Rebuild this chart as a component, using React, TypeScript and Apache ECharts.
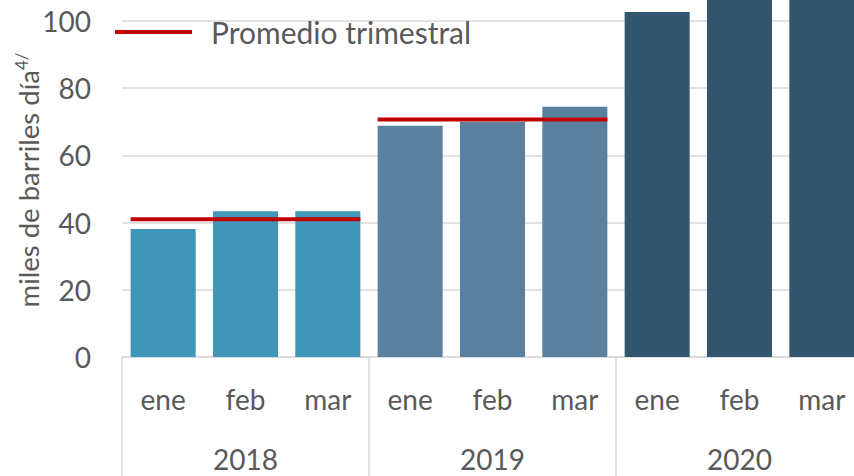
import React, { useEffect, useRef } from "react";
import * as echarts from "echarts";

const months = ["ene", "feb", "mar", "ene", "feb", "mar", "ene", "feb", "mar"];
const years = ["2018", "2019", "2020"];
const production = [38.1, 43.4, 43.4, 68.8, 70.0, 74.5, 102.7, 110.0, 112.0];
const quarterAvg = [41.0, 70.7, 108.2];
const yearColors = ["#4096B9", "#5A80A0", "#33566F"];
const legendName = "Promedio trimestral";

const FONT = "Lato";
const TEXT = "#595959";
const GAP_RATIO = 0.21;
const SHIFT_Y = 47;

export default function App() {
  const ref = useRef<HTMLDivElement>(null);
  useEffect(() => {
    if (!ref.current) return;
    const chart = echarts.init(ref.current, undefined, { renderer: "svg" });
    const pad = GAP_RATIO / 2;
    const lineSeries = quarterAvg.map((v, q) => ({
      name: legendName,
      type: "line",
      xAxisIndex: 2,
      yAxisIndex: 0,
      symbol: "none",
      lineStyle: { color: "#C00000", width: 4 },
      itemStyle: { color: "#C00000" },
      data: [
        [q * 3 + pad, v],
        [q * 3 + 3 - pad, v],
      ],
      z: 5,
    }));
    chart.setOption({
      animation: false,
      textStyle: { fontFamily: FONT },
      grid: { left: 122, right: 0, top: 0.8, bottom: 119, containLabel: false, outerBoundsMode: "none" },
      legend: {
        data: [legendName],
        left: 110,
        top: 12 + SHIFT_Y,
        icon: "rect",
        itemWidth: 77,
        itemHeight: 4,
        itemGap: 10,
        textStyle: { fontFamily: FONT, fontSize: 30, color: TEXT, padding: [0, 0, 0, 14] },
      },
      xAxis: [
        {
          type: "category",
          data: months,
          position: "bottom",
          axisLine: { show: true, lineStyle: { color: "#D9D9D9", width: 1.5 } },
          axisTick: { show: false },
          axisLabel: { fontFamily: FONT, fontSize: 28, color: TEXT, margin: 28, interval: 0 },
          splitLine: { show: false },
        },
        {
          type: "category",
          data: years,
          position: "bottom",
          axisLine: { show: false },
          axisTick: { show: true, length: 130, interval: 0, lineStyle: { color: "#D9D9D9", width: 1.5 } },
          axisLabel: { fontFamily: FONT, fontSize: 28, color: TEXT, margin: 88, interval: 0 },
          splitLine: { show: false },
        },
        {
          type: "value",
          min: 0,
          max: 9,
          show: false,
        },
      ],
      yAxis: {
        type: "value",
        min: 0,
        max: 120,
        interval: 20,
        axisLine: { show: false },
        axisTick: { show: false },
        axisLabel: { fontFamily: FONT, fontSize: 28, color: TEXT, margin: 31, showMaxLabel: false },
        splitLine: { lineStyle: { color: "#D9D9D9", width: 1.5 } },
      },
      graphic: [
        {
          type: "text",
          x: 28,
          y: 180 + SHIFT_Y,
          rotation: Math.PI / 2,
          style: {
            text: "{a|miles de barriles día}{s|4/}",
            align: "center",
            verticalAlign: "middle",
            rich: {
              a: { fontFamily: FONT, fontSize: 27.5, fill: TEXT, color: TEXT },
              s: { fontFamily: FONT, fontSize: 17, fill: TEXT, color: TEXT, verticalAlign: "top", padding: [0, 0, 14, 0] },
            },
          },
        },
      ],
      series: [
        {
          name: "Producción",
          type: "bar",
          xAxisIndex: 0,
          yAxisIndex: 0,
          barCategoryGap: GAP_RATIO * 100 + "%",
          data: production.map((v, i) => ({
            value: v,
            itemStyle: { color: yearColors[Math.floor(i / 3)] },
          })),
          z: 2,
        },
        ...lineSeries,
      ],
    });
    return () => chart.dispose();
  }, []);
  return (
    <div style={{ position: "fixed", left: 0, top: 0, width: 854, height: 476, overflow: "hidden", background: "#fff" }}>
      <div
        ref={ref}
        style={{ position: "absolute", left: 0, top: -SHIFT_Y, width: 863, height: 476 + SHIFT_Y }}
      />
    </div>
  );
}
